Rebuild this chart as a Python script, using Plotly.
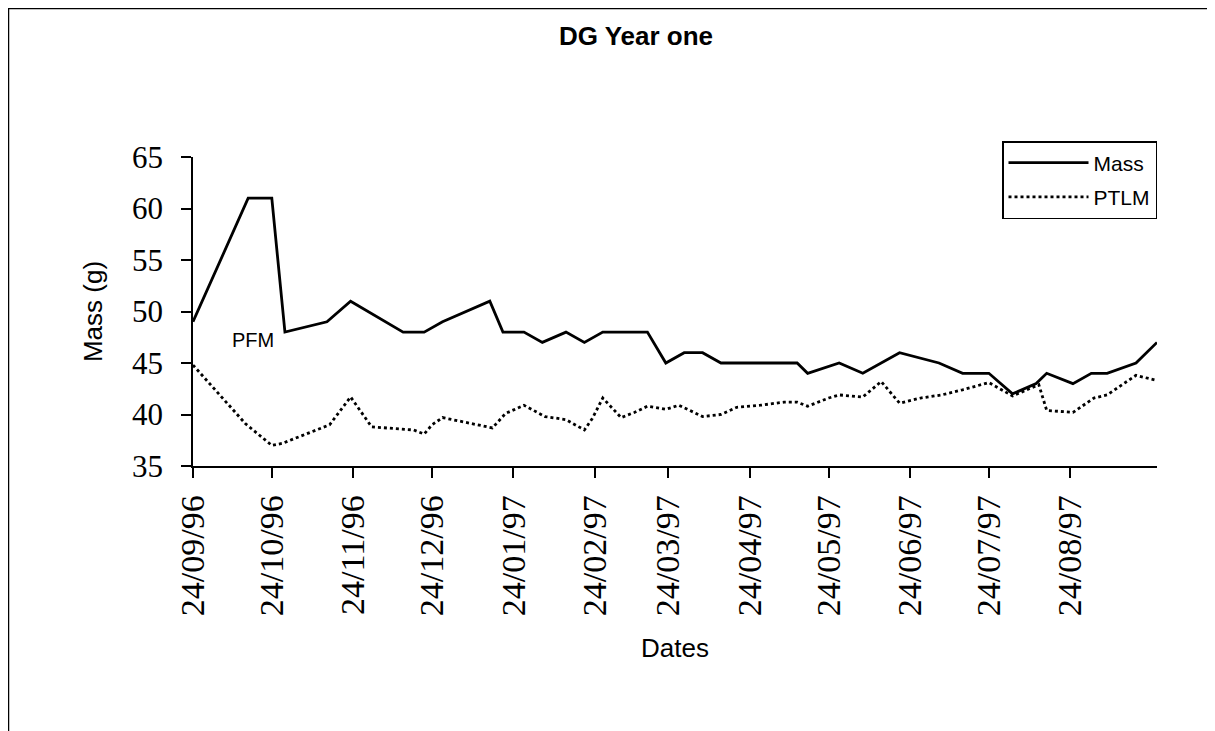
import plotly.graph_objects as go

mass_dates = ["1996-09-24", "1996-10-15", "1996-10-24", "1996-10-29", "1996-11-14", "1996-11-23",
              "1996-12-13", "1996-12-21", "1996-12-28", "1997-01-15", "1997-01-20", "1997-01-28",
              "1997-02-04", "1997-02-13", "1997-02-20", "1997-02-27", "1997-03-07", "1997-03-16",
              "1997-03-23", "1997-03-30", "1997-04-06", "1997-04-13", "1997-04-20", "1997-04-27",
              "1997-05-04", "1997-05-12", "1997-05-16", "1997-05-28", "1997-06-06", "1997-06-13",
              "1997-06-20", "1997-07-05", "1997-07-14", "1997-07-24", "1997-08-02", "1997-08-11",
              "1997-08-15", "1997-08-25", "1997-09-01", "1997-09-07", "1997-09-18", "1997-09-26"]
mass_values = [49, 61, 61, 48, 49, 51,
               48, 48, 49, 51, 48, 48,
               47, 48, 47, 48, 48, 48,
               45, 46, 46, 45, 45, 45,
               45, 45, 44, 45, 44, 45,
               46, 45, 44, 44, 42, 43,
               44, 43, 44, 44, 45, 47]

ptlm_dates = ["1996-09-24", "1996-10-14", "1996-10-24", "1996-10-28", "1996-11-15", "1996-11-21",
              "1996-11-23", "1996-12-01", "1996-12-17", "1996-12-21", "1996-12-24", "1996-12-28",
              "1997-01-16", "1997-01-21", "1997-01-28", "1997-02-05", "1997-02-13", "1997-02-20",
              "1997-02-23", "1997-02-27", "1997-03-06", "1997-03-11", "1997-03-16", "1997-03-23",
              "1997-03-28", "1997-04-06", "1997-04-13", "1997-04-19", "1997-04-28", "1997-05-07",
              "1997-05-12", "1997-05-16", "1997-05-24", "1997-05-28", "1997-06-06", "1997-06-13",
              "1997-06-20", "1997-06-28", "1997-07-06", "1997-07-14", "1997-07-24", "1997-08-02",
              "1997-08-12", "1997-08-15", "1997-08-25", "1997-09-02", "1997-09-07", "1997-09-18",
              "1997-09-26"]
ptlm_values = [44.8, 39.1, 37.0, 37.2, 39.0, 41.1,
               41.7, 38.8, 38.5, 38.1, 39.0, 39.7,
               38.7, 40.1, 40.9, 39.8, 39.5, 38.5,
               39.6, 41.6, 39.7, 40.2, 40.8, 40.5,
               40.9, 39.8, 40.0, 40.7, 40.9, 41.2,
               41.2, 40.8, 41.6, 41.9, 41.7, 43.2,
               41.1, 41.6, 41.9, 42.4, 43.1, 41.8,
               42.9, 40.4, 40.2, 41.6, 41.9, 43.8,
               43.3]

tick_dates = ["1996-09-24", "1996-10-24", "1996-11-24", "1996-12-24", "1997-01-24", "1997-02-24",
              "1997-03-24", "1997-04-24", "1997-05-24", "1997-06-24", "1997-07-24", "1997-08-24"]
tick_labels = ["24/09/96", "24/10/96", "24/11/96", "24/12/96", "24/01/97", "24/02/97",
               "24/03/97", "24/04/97", "24/05/97", "24/06/97", "24/07/97", "24/08/97"]
y_ticks = [35, 40, 45, 50, 55, 60, 65]

W, H = 1207, 723
L, R, T, B = 185, 58, 149, 265
PW, PH = W - L - R, H - T - B

fig = go.Figure()
fig.add_trace(go.Scatter(x=mass_dates, y=mass_values, mode="lines", name="Mass", legendgroup="a",
                         line=dict(color="black", width=2.8)))
fig.add_trace(go.Scatter(x=ptlm_dates, y=ptlm_values, mode="lines", name="PTLM", legendgroup="b",
                         line=dict(color="black", width=2.8, dash="dot")))

fig.update_layout(
    width=W, height=H, autosize=False,
    paper_bgcolor="white", plot_bgcolor="white",
    margin=dict(l=L, r=R, t=T, b=B),
    title=dict(text="<b>DG Year one</b>", x=628 / W, xanchor="center", y=1 - 27.5 / H, yanchor="middle",
               font=dict(family="Liberation Sans", size=26, color="black")),
    font=dict(family="Liberation Sans", color="black"),
    showlegend=True,
    legend=dict(x=1.0, xanchor="right", y=1 + 16 / PH, yanchor="top",
                bordercolor="black", borderwidth=1.5, bgcolor="white",
                font=dict(family="Liberation Sans", size=21, color="black"),
                itemwidth=80, tracegroupgap=4),
    xaxis=dict(
        type="date", range=["1996-09-24", "1997-09-26"],
        tickmode="array", tickvals=tick_dates, ticktext=tick_labels,
        tickangle=-90, tickfont=dict(family="Liberation Serif", size=34, color="black"),
        ticks="outside", ticklen=10, tickwidth=1.5, tickcolor="black",
        ticklabelstandoff=4,
        showline=True, linecolor="black", linewidth=1.5,
        showgrid=False, zeroline=False,
        title=dict(text="Dates", font=dict(family="Liberation Sans", size=26, color="black"), standoff=24),
    ),
    yaxis=dict(
        range=[35, 65], tickmode="array", tickvals=y_ticks,
        tickfont=dict(family="Liberation Serif", size=31, color="black"),
        ticks="outside", ticklen=10, tickwidth=1.5, tickcolor="black",
        ticklabelstandoff=12,
        showline=True, linecolor="black", linewidth=1.5,
        showgrid=False, zeroline=False,
        title=dict(text="Mass (g)", font=dict(family="Liberation Sans", size=26, color="black"), standoff=22),
    ),
    shapes=[dict(type="rect", xref="paper", yref="paper",
                 x0=(0.5 - L) / PW, x1=(1200 - L) / PW, y0=-(B + 20) / PH, y1=1 + (T - 0.5) / PH,
                 line=dict(color="black", width=1.5), fillcolor="rgba(0,0,0,0)", layer="below")],
    annotations=[dict(text="PFM", x="1996-10-17", y=47.2, xref="x", yref="y",
                      showarrow=False, font=dict(family="Liberation Sans", size=20, color="black"))],
)

fig.write_html("out.html")
